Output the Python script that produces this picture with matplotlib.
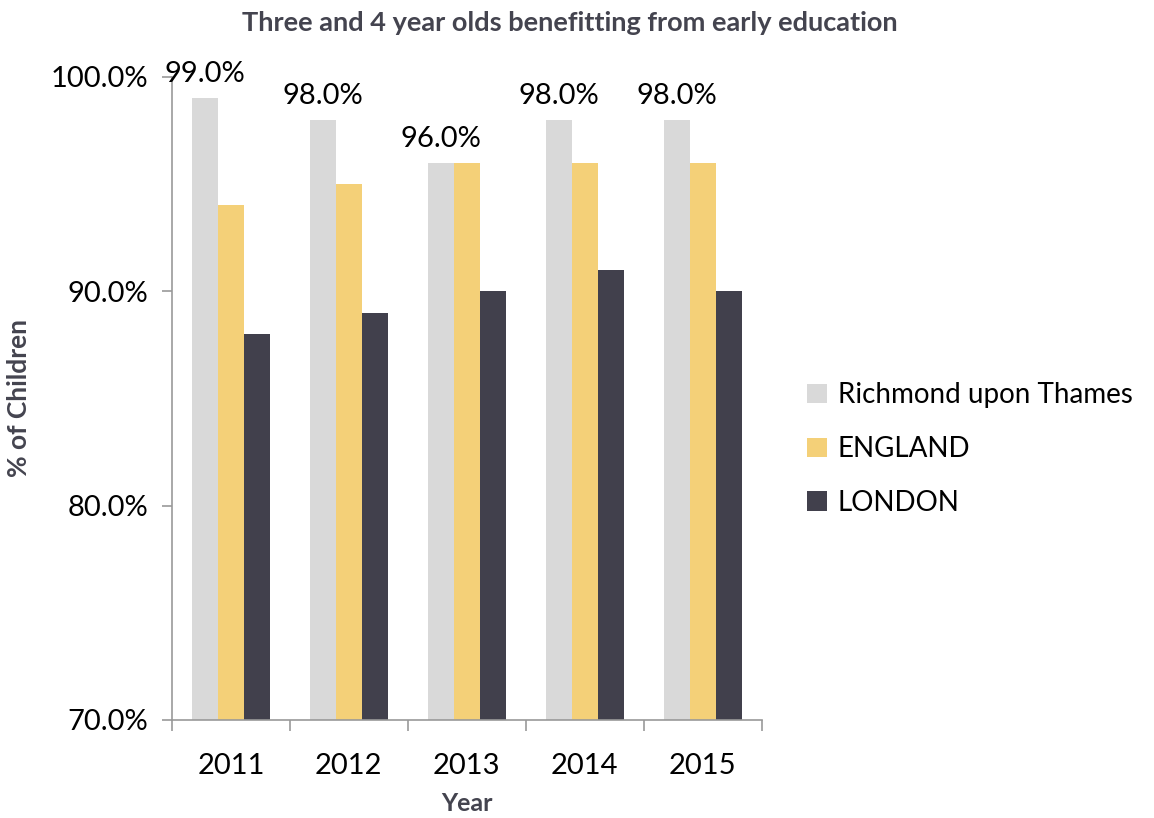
import matplotlib
matplotlib.use("Agg")
import matplotlib.pyplot as plt
import numpy as np

years = ["2011", "2012", "2013", "2014", "2015"]
series_names = ["Richmond upon Thames", "ENGLAND", "LONDON"]
richmond = [99.0, 98.0, 96.0, 98.0, 98.0]
england = [94.0, 95.0, 96.0, 96.0, 96.0]
london = [88.0, 89.0, 90.0, 91.0, 90.0]
colors = ["#d9d9d9", "#f4d078", "#41404c"]

plt.rcParams["font.family"] = ["Lato", "DejaVu Sans"]

fig = plt.figure(figsize=(11.54, 8.18), dpi=100)
ax = fig.add_axes([0.149, 0.120, 0.511, 0.786])

x = np.arange(len(years))
w = 0.22
values = [richmond, england, london]
for i, (vals, name, c) in enumerate(zip(values, series_names, colors)):
    bars = ax.bar(x + (i - 1) * w, vals, width=w, color=c, label=name, zorder=2)
    if i == 0:
        for b, v in zip(bars, vals):
            ax.annotate(f"{v:.1f}%", (b.get_x() + b.get_width() / 2, v),
                        xytext=(0, 8), textcoords="offset points",
                        ha="center", va="bottom", fontsize=21, color="#000000")

ax.set_ylim(70, 100)
ax.set_xlim(-0.5, len(years) - 0.5)
ax.set_yticks([70, 80, 90, 100])
ax.set_yticklabels([f"{t:.1f}%" for t in [70, 80, 90, 100]], fontsize=21)
ax.set_xticks(x)
ax.set_xticklabels(years, fontsize=21)
ax.tick_params(axis="x", length=0, pad=24)
ax.set_xticks(np.arange(len(years) + 1) - 0.5, minor=True)
ax.tick_params(axis="x", which="minor", length=8, color="#999999", width=1.2)
ax.tick_params(axis="y", length=7, color="#999999", width=1.2, pad=10)

for s in ["top", "right"]:
    ax.spines[s].set_visible(False)
for s in ["left", "bottom"]:
    ax.spines[s].set_color("#999999")
    ax.spines[s].set_linewidth(1.2)

ax.set_xlabel("Year", fontsize=18, fontweight="bold", color="#44444f", labelpad=9)
ax.set_ylabel("% of Children", fontsize=19, fontweight="bold", color="#44444f", labelpad=14)

fig.text(0.494, 0.972, "Three and 4 year olds benefitting from early education",
         ha="center", va="center", fontsize=19.5, fontweight="bold", color="#44444f")

leg = ax.legend(loc="center left", bbox_to_anchor=(0.678, 0.451),
                bbox_transform=fig.transFigure, frameon=False,
                fontsize=20, handlelength=0.7, handleheight=0.7, handletextpad=0.4,
                labelspacing=1.0)

fig.savefig("out.png", dpi=100)
